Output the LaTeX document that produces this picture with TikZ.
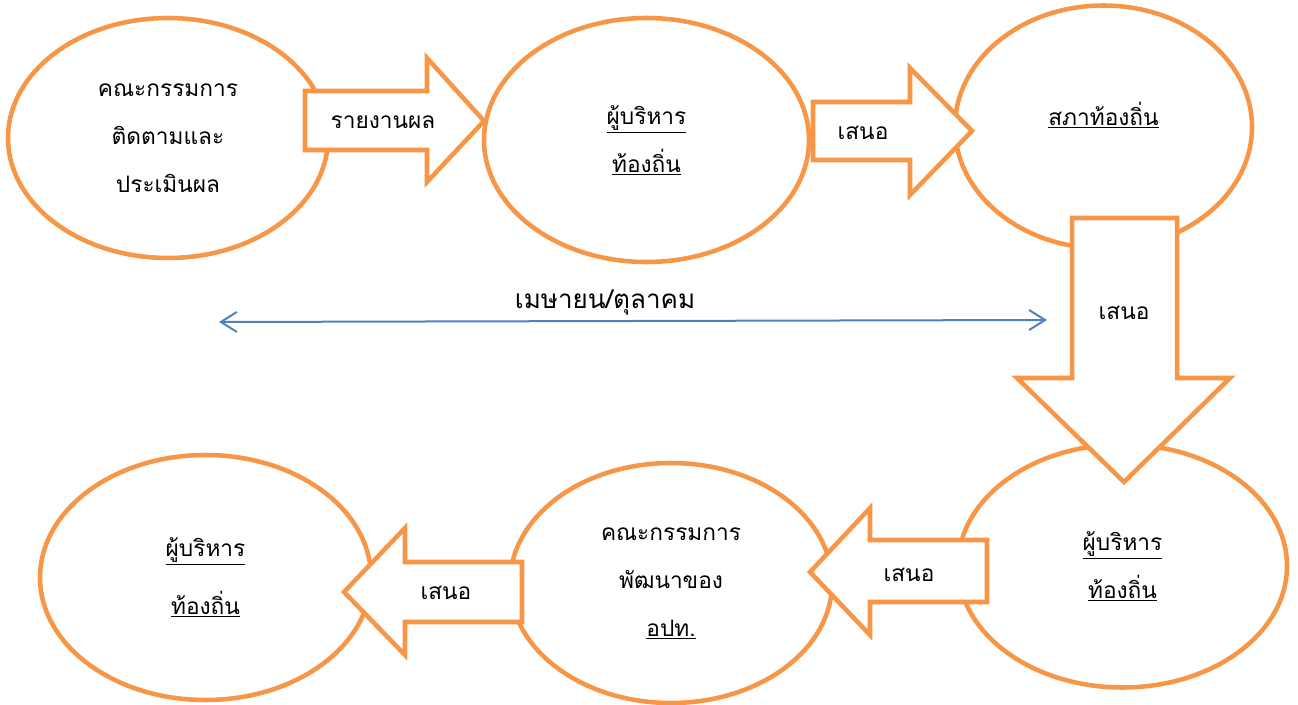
\documentclass[tikz,border=0pt]{standalone}
\usepackage{fontspec}
\newfontfamily\thaifont[Script=Thai]{Loma}
\usetikzlibrary{shapes.geometric,arrows.meta}
\definecolor{ovalorange}{RGB}{247,150,70}
\definecolor{spanblue}{RGB}{79,129,189}
\tikzset{
	oval/.style={
		draw=ovalorange, line width=3.4pt, ellipse, inner sep=0pt,
		align=center, font=\thaifont\fontsize{17}{36}\selectfont},
	blockarrow/.style={
		draw=ovalorange, line width=3.4pt, fill=white, line join=miter},
	lbl/.style={
		inner sep=0pt, align=center, font=\thaifont\fontsize{17}{36}\selectfont},
	span/.style={
		draw=spanblue, line width=1.5pt,
		{Straight Barb[length=12pt,width=15pt]}-{Straight Barb[length=12pt,width=15pt]}}
}

\begin{document}
\begin{tikzpicture}[x=0.75pt,y=0.75pt,yscale=-1,xscale=1]
\useasboundingbox (0,0) rectangle (1298,705);

% ovals, top row
\node[oval, minimum width=240pt, minimum height=180pt] (follow) at (168,138)
	{คณะกรรมการ\\ติดตามและ\\ประเมินผล};
\node[oval, minimum width=243.75pt, minimum height=183pt] (exec1) at (646.5,140)
	{\underline{ผู้บริหาร}\\\underline{ท้องถิ่น}};
\node[oval, minimum width=222.75pt, minimum height=182.25pt] (council) at (1103.5,127) {};
\node[lbl] (councilname) at (1103.5,115) {\underline{สภาท้องถิ่น}};

% ovals, bottom row
\node[oval, minimum width=246.75pt, minimum height=182.25pt] (exec2) at (1122.5,566)
	{\underline{ผู้บริหาร}\\\underline{ท้องถิ่น}};
\node[oval, minimum width=241.5pt, minimum height=180pt] (devel) at (671,583)
	{คณะกรรมการ\\พัฒนาของ\\\underline{อปท.}};
\node[oval, minimum width=248.25pt, minimum height=183.75pt] (exec3) at (205.5,577.5)
	{\underline{ผู้บริหาร}\\[7pt]\underline{ท้องถิ่น}};

% block arrows
\draw[blockarrow] (305,91) -- (427,91) -- (427,58) -- (484,121) -- (427,182) -- (427,150) -- (305,150) -- cycle;
\node[lbl] (report) at (383,122) {รายงานผล};

\draw[blockarrow] (813,102) -- (910,102) -- (910,68) -- (972,131) -- (910,195) -- (910,160) -- (813,160) -- cycle;
\node[lbl] (propose1) at (863,133) {เสนอ};

\draw[blockarrow] (1072,218) -- (1177,218) -- (1177,378) -- (1230,378) -- (1124,482) -- (1017,378) -- (1072,378) -- cycle;
\node[lbl] (propose2) at (1124,313) {เสนอ};

\draw[blockarrow] (987,540) -- (870,540) -- (870,508) -- (810,572) -- (870,635) -- (870,602) -- (987,602) -- cycle;
\node[lbl] (propose3) at (909,575) {เสนอ};

\draw[blockarrow] (522,562) -- (405,562) -- (405,528) -- (344,592) -- (405,655) -- (405,622) -- (522,622) -- cycle;
\node[lbl] (propose4) at (446,593) {เสนอ};

% time span
\coordinate (spanL) at (219,322);
\coordinate (spanR) at (1047,320);
\draw[span] (spanL) -- (spanR);
\node[lbl, font=\thaifont\fontsize{19.5}{24}\selectfont] (months) at (605,303) {เมษายน/ตุลาคม};

\end{tikzpicture}
\end{document}
